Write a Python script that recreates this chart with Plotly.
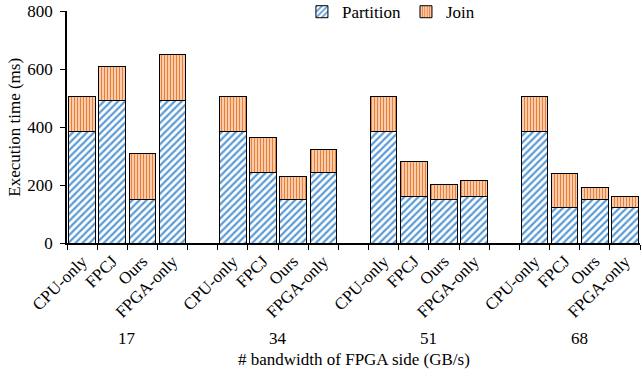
import plotly.graph_objects as go

groups = ["17", "34", "51", "68"]
methods = ["CPU-only", "FPCJ", "Ours", "FPGA-only"]
partition = [[385, 490, 150, 490],
             [385, 243, 150, 243],
             [385, 161, 150, 161],
             [385, 122, 150, 122]]
total = [[504, 609, 310, 651],
         [504, 364, 230, 324],
         [504, 280, 203, 216],
         [504, 240, 190, 161]]
yticks = [0, 200, 400, 600, 800]

FONT = "Liberation Serif, Times New Roman, serif"
FS = 17

cats, labels, p_vals, j_vals = [], [], [], []
for gi, g in enumerate(groups):
    for mi, m in enumerate(methods):
        cats.append(f"{g}|{m}")
        labels.append(m)
        p_vals.append(partition[gi][mi])
        j_vals.append(total[gi][mi] - partition[gi][mi])
    if gi < len(groups) - 1:
        cats.append(f"gap{gi}")
        labels.append("")
        p_vals.append(None)
        j_vals.append(None)

fig = go.Figure()
fig.add_trace(go.Bar(
    x=cats, y=p_vals, name="Partition",
    marker=dict(color="white", line=dict(color="black", width=1),
                pattern=dict(shape="/", fgcolor="#5B9BD5", bgcolor="white",
                             fgopacity=1, size=5, solidity=0.45)),
))
fig.add_trace(go.Bar(
    x=cats, y=j_vals, name="Join",
    marker=dict(color="white", line=dict(color="black", width=1),
                pattern=dict(shape="|", fgcolor="#ED7D31", bgcolor="white",
                             fgopacity=1, size=3, solidity=0.6)),
))

annotations = []
for gi, g in enumerate(groups):
    annotations.append(dict(x=gi * (len(methods) + 1) + (len(methods) - 1) / 2,
                            y=-0.41, xref="x", yref="paper", text=g,
                            xanchor="center", yanchor="middle",
                            showarrow=False, font=dict(size=FS, family=FONT, color="black")))
annotations.append(dict(x=0.5, y=-0.50, xref="paper", yref="paper",
                        text="# bandwidth of FPGA side (GB/s)", showarrow=False,
                        xanchor="center", yanchor="middle",
                        font=dict(size=FS, family=FONT, color="black")))
annotations.append(dict(x=-0.093, y=0.5, xref="paper", yref="paper",
                        text="Execution time (ms)", textangle=-90, showarrow=False,
                        xanchor="center", yanchor="middle",
                        font=dict(size=FS, family=FONT, color="black")))

fig.update_layout(
    width=642, height=377,
    margin=dict(l=67, r=2, t=11, b=134, autoexpand=False),
    barmode="stack", bargap=0.12,
    plot_bgcolor="white", paper_bgcolor="white",
    font=dict(family=FONT, size=FS, color="black"),
    showlegend=True,
    legend=dict(orientation="h", x=0.41, y=0.995, xanchor="left", yanchor="middle",
                font=dict(size=FS, family=FONT), bgcolor="rgba(0,0,0,0)",
                traceorder="normal"),
    annotations=annotations,
    xaxis=dict(type="category", categoryorder="array", categoryarray=cats,
               tickmode="array", tickvals=cats, ticktext=labels,
               tickangle=-45, ticks="outside", tickson="boundaries", ticklen=5,
               tickcolor="black", showline=True, linecolor="black", linewidth=1.5,
               showgrid=False, tickfont=dict(size=FS, family=FONT),
               range=[-0.5, len(cats) - 0.5], automargin=False),
    yaxis=dict(range=[0, 800], tickvals=yticks, ticks="outside", ticklen=5,
               tickcolor="black", showline=True, linecolor="black", linewidth=1.5,
               showgrid=False, zeroline=False, tickfont=dict(size=FS, family=FONT),
               ticklabelstandoff=4, automargin=False),
)

fig.write_html("out.html")
